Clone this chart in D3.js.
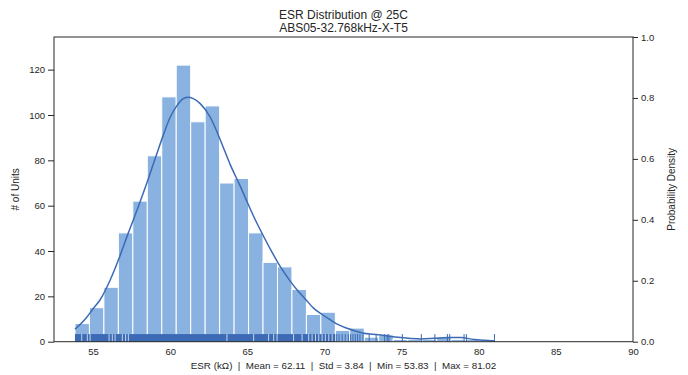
<!DOCTYPE html>
<html>
<head>
<meta charset="utf-8">
<script src="https://cdn.jsdelivr.net/npm/d3@7"></script>
<style>
  body { margin: 0; background: #fff; }
  text { font-family: "Liberation Sans", Arial, sans-serif; fill: #262626; }
</style>
</head>
<body>
<svg id="chart" width="688" height="375"></svg>
<script>
// histogram: 29 equal bins between the min and max ESR
const binMin = 53.83;
const binMax = 81.02;
const binCounts = [8, 15, 24, 48, 62, 82, 108, 122, 97, 104, 70, 72, 48, 35, 33,
                   23, 12, 13, 5, 6, 2, 3, 1, 1, 1, 2, 1, 1, 1];

// kde curve (ESR kOhm, scaled to # of units)
const kdeX = [53.83, 54.5, 55.0, 55.45, 56.1, 56.7, 57.29, 57.94, 58.49, 59.14, 59.6, 60.0,
              60.43, 60.8, 61.12, 61.5, 61.95, 62.6, 63.25, 63.9, 64.55, 65.0, 65.5, 66.06,
              66.6, 67.14, 67.7, 68.23, 68.8, 69.31, 69.85, 70.39, 70.9, 71.47, 72.0, 72.55,
              73.1, 73.64, 74.3, 74.94, 75.6, 76.23, 77.1, 77.97, 78.83, 79.7, 80.4, 81.02];
const kdeY = [5.5, 10, 14.5, 18.4, 27, 37, 48, 59.6, 70, 83, 92, 99,
              104, 107, 107.8, 107.2, 105, 99, 89, 78, 68.5, 61.5, 54, 46.4,
              39.5, 33.1, 27.5, 22.8, 18.5, 14.7, 12, 9.6, 7.5, 5.9, 4.7, 3.7,
              3.3, 3.0, 2.3, 1.8, 1.4, 1.2, 1.5, 1.9, 1.8, 1.0, 0.6, 0.3];

// rug: solid band where the units are dense, the light gaps inside it, and single ticks in the tail
const rugBand = [53.83, 70.7];
const rugGaps = [54.27, 54.63, 54.81, 56.04, 56.25, 56.43, 56.9, 57.11, 57.29, 63.68, 65.41,
                 66.38, 66.71, 66.93, 68.0, 68.55, 68.98, 69.2, 69.42, 69.63, 69.85, 70.06,
                 70.28, 70.5];
const rugTicks = [70.8, 70.95, 71.15, 71.35, 71.55, 71.7, 71.85, 72.0, 72.15, 72.3, 72.5,
                  72.9, 73.35, 73.9, 74.07, 74.18, 75.05, 76.28, 77.16, 77.97, 78.12, 79.05,
                  79.2, 81.02];

const xTicks = [55, 60, 65, 70, 75, 80, 85, 90];
const yTicks = [0, 20, 40, 60, 80, 100, 120];
const densityTicks = [0, 0.2, 0.4, 0.6, 0.8, 1.0];

const titleLines = ["ESR Distribution @ 25C", "ABS05-32.768kHz-X-T5"];
const xLabel = "ESR (k\u03A9)  |  Mean = 62.11  |  Std = 3.84  |  Min = 53.83  |  Max = 81.02";

const barColor = "#8ab2e0";
const lineColor = "#3c6ab4";

const svg = d3.select("#chart");
const margin = { top: 37, right: 55, bottom: 33.3, left: 54 };
const width = 688 - margin.left - margin.right;
const height = 375 - margin.top - margin.bottom;

const g = svg.append("g").attr("transform", `translate(${margin.left},${margin.top})`);

const x = d3.scaleLinear().domain([binMin - 0.05 * (binMax - binMin), 90]).range([0, width]);
const y = d3.scaleLinear().domain([0, 134.4]).range([height, 0]);
const yDensity = d3.scaleLinear().domain([0, 1]).range([height, 0]);

// bars
const binWidth = (binMax - binMin) / binCounts.length;
g.selectAll("rect.bar")
    .data(binCounts)
    .enter().append("rect")
    .attr("class", "bar")
    .attr("x", (d, i) => x(binMin + i * binWidth))
    .attr("width", x(binMin + binWidth) - x(binMin))
    .attr("y", d => y(d))
    .attr("height", d => y(0) - y(d))
    .attr("fill", barColor)
    .attr("stroke", "#fff")
    .attr("stroke-width", 1);

// kde line
const line = d3.line()
    .x(d => x(d[0]))
    .y(d => y(d[1]))
    .curve(d3.curveMonotoneX);

g.append("path")
    .datum(kdeX.map((v, i) => [v, kdeY[i]]))
    .attr("d", line)
    .attr("fill", "none")
    .attr("stroke", lineColor)
    .attr("stroke-width", 1.5);

// rug
const rugHeight = 0.025 * height;
g.append("rect")
    .attr("x", x(rugBand[0]))
    .attr("width", x(rugBand[1]) - x(rugBand[0]))
    .attr("y", height - rugHeight)
    .attr("height", rugHeight)
    .attr("fill", lineColor);

g.selectAll("line.gap")
    .data(rugGaps)
    .enter().append("line")
    .attr("class", "gap")
    .attr("x1", d => x(d)).attr("x2", d => x(d))
    .attr("y1", height - rugHeight).attr("y2", height)
    .attr("stroke", "#d3e2f3")
    .attr("stroke-width", 0.9);

g.selectAll("line.rug")
    .data(rugTicks)
    .enter().append("line")
    .attr("class", "rug")
    .attr("x1", d => x(d)).attr("x2", d => x(d))
    .attr("y1", height - rugHeight).attr("y2", height)
    .attr("stroke", lineColor)
    .attr("stroke-width", 1);

// frame
g.append("rect")
    .attr("width", width)
    .attr("height", height)
    .attr("fill", "none")
    .attr("stroke", "#262626")
    .attr("stroke-width", 1);

// axes
const xAxis = g.append("g")
    .attr("transform", `translate(0,${height})`)
    .call(d3.axisBottom(x).tickValues(xTicks).tickSize(0).tickPadding(7));

const yAxis = g.append("g")
    .call(d3.axisLeft(y).tickValues(yTicks).tickSize(6).tickPadding(3));

const yAxisRight = g.append("g")
    .attr("transform", `translate(${width},0)`)
    .call(d3.axisRight(yDensity).tickValues(densityTicks).tickFormat(d3.format(".1f")).tickSize(5).tickPadding(3));

[xAxis, yAxis, yAxisRight].forEach(a => {
    a.select(".domain").remove();
    a.selectAll("line").attr("stroke", "#262626");
    a.selectAll("text").style("font-size", "9.5px").attr("fill", "#262626");
});

// labels
svg.append("text")
    .attr("x", margin.left + width / 2)
    .attr("y", 368.5)
    .attr("text-anchor", "middle")
    .style("font-size", "9.8px")
    .style("white-space", "pre")
    .text(xLabel);

svg.append("text")
    .attr("transform", `translate(19,${margin.top + height / 2}) rotate(-90)`)
    .attr("text-anchor", "middle")
    .style("font-size", "10px")
    .text("# of Units");

svg.append("text")
    .attr("transform", `translate(675,${margin.top + height / 2}) rotate(-90)`)
    .attr("text-anchor", "middle")
    .style("font-size", "10px")
    .text("Probability Density");

svg.selectAll("text.title")
    .data(titleLines)
    .enter().append("text")
    .attr("class", "title")
    .attr("x", margin.left + width / 2)
    .attr("y", (d, i) => 19 + i * 12.5)
    .attr("text-anchor", "middle")
    .style("font-size", "12px")
    .attr("fill", "#000")
    .text(d => d);
</script>
</body>
</html>
